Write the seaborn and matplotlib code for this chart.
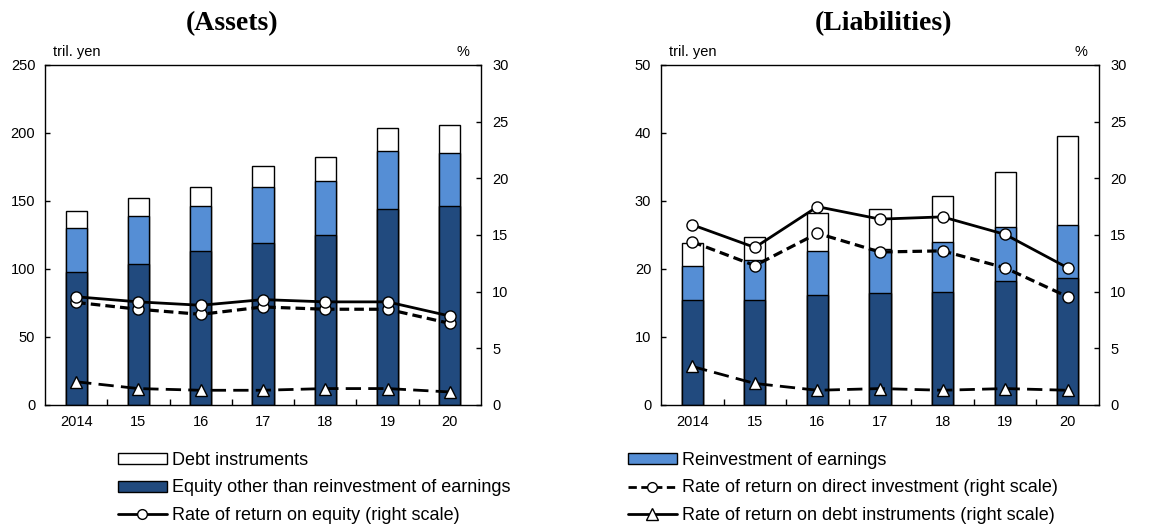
import numpy as np
import pandas as pd
import matplotlib
matplotlib.use("Agg")
import matplotlib.pyplot as plt
from matplotlib.patches import Patch
from matplotlib.lines import Line2D
from matplotlib.ticker import FixedLocator, NullFormatter
import seaborn as sns

# ---- data -----------------------------------------------------------------
years = ["2014", "15", "16", "17", "18", "19", "20"]

# Assets (tril. yen)
assets_equity_other = [97.5, 103.5, 113.0, 119.0, 125.0, 144.0, 146.0]
assets_reinvest = [32.5, 35.5, 33.5, 41.5, 39.5, 42.5, 39.5]
assets_debt = [12.5, 13.5, 13.5, 15.5, 17.5, 17.5, 20.5]
# Assets rates of return (%)
assets_ror_equity = [9.55, 9.1, 8.8, 9.3, 9.1, 9.1, 7.85]
assets_ror_direct = [9.05, 8.45, 8.0, 8.65, 8.45, 8.45, 7.2]
assets_ror_debt = [2.05, 1.45, 1.3, 1.3, 1.45, 1.45, 1.15]

# Liabilities (tril. yen)
liab_equity_other = [15.4, 15.4, 16.2, 16.4, 16.6, 18.3, 18.7]
liab_reinvest = [5.1, 5.9, 6.4, 6.5, 7.4, 7.9, 7.7]
liab_debt = [3.3, 3.45, 5.6, 5.9, 6.7, 8.1, 13.2]
# Liabilities rates of return (%)
liab_ror_equity = [15.9, 13.9, 17.5, 16.4, 16.6, 15.05, 12.1]
liab_ror_direct = [14.4, 12.3, 15.15, 13.5, 13.6, 12.1, 9.55]
liab_ror_debt = [3.4, 1.9, 1.3, 1.45, 1.3, 1.45, 1.3]

# ---- style ----------------------------------------------------------------
sns.set_theme(style="white")
plt.rcParams["font.family"] = ["Liberation Sans", "DejaVu Sans"]
plt.rcParams["text.color"] = "black"
plt.rcParams["axes.labelcolor"] = "black"
plt.rcParams["xtick.color"] = "black"
plt.rcParams["ytick.color"] = "black"

DARK = "#214A7E"
MID = "#558ED5"
BAR_W = 0.34
TICK_FS = 10.5
DIRECT_DASH = (0, (3, 1.6))
DEBT_DASH = (0, (5.5, 2.6))

fig = plt.figure(figsize=(11.73, 5.26), dpi=100)


def panel(rect, eq, re, de, r_eq, r_dir, r_debt, ymax, ystep):
    ax = fig.add_axes(rect)
    df = pd.DataFrame({"year": years, "eq": eq, "re": re, "de": de})
    df["eq_re"] = df["eq"] + df["re"]
    df["total"] = df["eq_re"] + df["de"]

    # stacked bars: draw cumulative totals back to front
    for col, colr in (("total", "white"), ("eq_re", MID), ("eq", DARK)):
        sns.barplot(data=df, x="year", y=col, color=colr, saturation=1,
                    edgecolor="black", linewidth=1.0, width=BAR_W, ax=ax)

    ax.set_xlim(-0.5, len(years) - 0.5)
    ax.set_ylim(0, ymax)
    ax.set_yticks(np.arange(0, ymax + 0.001, ystep))
    ax.set_xlabel("")
    ax.set_ylabel("")
    ax.xaxis.set_minor_locator(FixedLocator(np.arange(0.5, len(years) - 1, 1.0)))
    ax.xaxis.set_minor_formatter(NullFormatter())
    ax.tick_params(axis="x", which="major", length=0, pad=7,
                   labelsize=TICK_FS, colors="black")
    ax.tick_params(axis="x", which="minor", direction="in", length=4,
                   width=1, color="black", bottom=True)
    ax.tick_params(axis="y", direction="in", length=3.5, width=1, pad=7,
                   labelsize=TICK_FS, colors="black", left=True)
    for s in ax.spines.values():
        s.set_color("black")
        s.set_linewidth(1.0)

    ax2 = ax.twinx()
    xpos = np.arange(len(years))
    sns.lineplot(x=xpos, y=r_debt, ax=ax2, color="black", linewidth=2,
                 linestyle=DEBT_DASH, marker="^", markersize=8,
                 markerfacecolor="white", markeredgecolor="black",
                 markeredgewidth=1)
    sns.lineplot(x=xpos, y=r_dir, ax=ax2, color="black", linewidth=2.3,
                 linestyle=DIRECT_DASH, marker="o", markersize=8,
                 markerfacecolor="white", markeredgecolor="black",
                 markeredgewidth=1)
    sns.lineplot(x=xpos, y=r_eq, ax=ax2, color="black", linewidth=2,
                 linestyle="-", marker="o", markersize=8,
                 markerfacecolor="white", markeredgecolor="black",
                 markeredgewidth=1)
    ax2.set_ylim(0, 30)
    ax2.set_yticks(np.arange(0, 31, 5))
    ax2.set_ylabel("")
    ax2.tick_params(axis="y", direction="in", length=3.5, width=1, pad=8,
                    labelsize=TICK_FS, colors="black", right=True)
    ax2.grid(False)
    ax.grid(False)
    for s in ax2.spines.values():
        s.set_visible(False)

    x0, y0, w, h = rect
    fig.text(x0 + 0.007, y0 + h + 0.012, "tril. yen", fontsize=10.5,
             ha="left", va="bottom")
    fig.text(x0 + w - 0.010, y0 + h + 0.012, "%", fontsize=10.5,
             ha="right", va="bottom")
    return ax, ax2


H = 340 / 526
B = 1 - 405 / 526
panel([45 / 1173, B, 436 / 1173, H], assets_equity_other, assets_reinvest,
      assets_debt, assets_ror_equity, assets_ror_direct, assets_ror_debt,
      250, 50)
panel([661 / 1173, B, 438 / 1173, H], liab_equity_other, liab_reinvest,
      liab_debt, liab_ror_equity, liab_ror_direct, liab_ror_debt, 50, 10)

title_kw = dict(fontsize=20, fontweight="bold", ha="center", va="center",
                color="black", family=["Liberation Serif", "DejaVu Serif"])
fig.text(232 / 1173, 1 - 24 / 526, "(Assets)", **title_kw)
fig.text(884 / 1173, 1 - 24 / 526, "(Liabilities)", **title_kw)

# ---- legends --------------------------------------------------------------
def circ_line(ls):
    return Line2D([], [], color="black", linewidth=2, linestyle=ls,
                  marker="o", markersize=7, markerfacecolor="white",
                  markeredgecolor="black", markeredgewidth=1)


h_debt = Patch(facecolor="white", edgecolor="black", linewidth=1)
h_eq = Patch(facecolor=DARK, edgecolor="black", linewidth=1)
h_re = Patch(facecolor=MID, edgecolor="black", linewidth=1)
h_roe = circ_line("-")
h_rod = circ_line(DIRECT_DASH)
h_rdebt = Line2D([], [], color="black", linewidth=2, linestyle="-",
                 marker="^", markersize=8, markerfacecolor="white",
                 markeredgecolor="black", markeredgewidth=1)

leg_kw = dict(loc="upper left", frameon=False, fontsize=13, borderpad=0,
              borderaxespad=0, handlelength=2.7, handleheight=0.55,
              handletextpad=0.3, labelspacing=0.58)
fig.legend([h_debt, h_eq, h_roe],
           ["Debt instruments", "Equity other than reinvestment of earnings",
            "Rate of return on equity (right scale)"],
           bbox_to_anchor=(118 / 1173, 1 - 452 / 526), **leg_kw)
fig.legend([h_re, h_rod, h_rdebt],
           ["Reinvestment of earnings",
            "Rate of return on direct investment (right scale)",
            "Rate of return on debt instruments (right scale)"],
           bbox_to_anchor=(628 / 1173, 1 - 452 / 526), **leg_kw)

fig.savefig("out.png", dpi=100)
